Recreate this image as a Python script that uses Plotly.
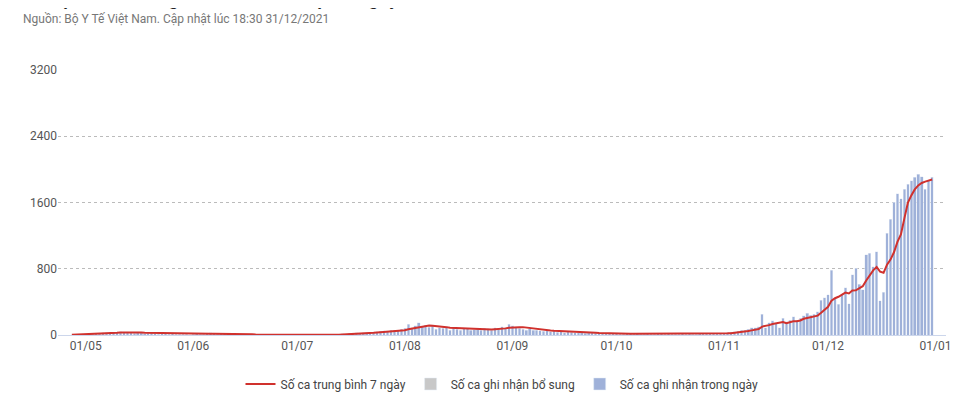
import pandas as pd
import plotly.graph_objects as go

apr = [3,6,4,5]
may = [8,10,12,15,20,25,30,35,28,30,40,25,35,30,20,25,30,15,20,25,18,10,15,20,12,15,10,8,12,10,6]
jun = [10,15,8,12,20,25,15,10,20,15,10,12,8,10,6,8,5,6,4,5,3,5,4,3,2,3,2,4,3,2]
jul = [2,1,2,3,2,1,2,3,4,2,3,5,10,15,12,20,15,25,20,30,25,35,30,40,45,50,40,55,60,50,70]
aug = [80,130,90,110,150,100,120,95,110,70,90,80,100,60,85,70,55,80,75,60,65,70,55,80,75,60,90,70,100,85,130]
sep = [110,90,80,70,60,75,55,60,50,45,55,40,50,35,40,30,45,35,30,25,30,20,25,30,20,15,25,20,15,20]
octo = [15,10,12,18,15,10,20,12,8,15,10,12,15,20,10,15,12,8,10,15,12,18,10,12,15,20,18,15,20,22,20]
nov = [20,25,35,40,45,55,60,70,85,90,100,250,90,150,170,140,90,200,160,180,220,180,200,230,260,240,250,280,420,450]
dec = [484,782,443,371,484,572,379,725,806,612,544,967,987,826,1008,411,516,
       1229,1398,1604,1705,1644,1761,1822,1862,1906,1942,1914,1761,1862,1902]

daily = apr + may + jun + jul + aug + sep + octo + nov + dec
dates = pd.date_range("2021-04-27", periods=len(daily), freq="D")
extra = [0] * len(daily)
avg7 = pd.Series(daily).add(pd.Series(extra)).rolling(7, min_periods=1).mean().round(1).tolist()

fig = go.Figure()
fig.add_trace(go.Bar(x=dates, y=extra, name="Số ca ghi nhận bổ sung", marker_color="#c8c8c8", legendrank=2))
fig.add_trace(go.Bar(x=dates, y=daily, name="Số ca ghi nhận trong ngày", marker_color="#9fb1d9", legendrank=3))
fig.add_trace(go.Scatter(x=dates, y=avg7, mode="lines", name="Số ca trung bình 7 ngày",
                         line=dict(color="#d0312d", width=2), legendrank=1))

fig.update_layout(
    width=960, height=400, barmode="stack", bargap=0.25,
    plot_bgcolor="white", paper_bgcolor="white",
    font=dict(family="Roboto, Arial, sans-serif", color="#333"),
    margin=dict(l=50, r=22, t=62, b=73, autoexpand=False),
    legend=dict(orientation="h", x=0.5, xanchor="center", y=-0.13, yanchor="top",
                traceorder="normal", font=dict(size=12, color="#444")),
    showlegend=True,
    annotations=[
        dict(text="<b>Số liệu Covid-19 ghi nhận tại Hà Nội từ ngày 27/4</b>", xref="paper", yref="paper",
             x=-0.042, y=1.22, xanchor="left", yanchor="bottom", showarrow=False,
             font=dict(size=19, color="#222")),
        dict(text="Nguồn: Bộ Y Tế Việt Nam. Cập nhật lúc 18:30 31/12/2021", xref="paper", yref="paper",
             x=-0.042, y=1.16, xanchor="left", yanchor="bottom", showarrow=False,
             font=dict(size=12, color="#777")),
    ],
)
fig.update_xaxes(type="date", range=["2021-04-23", "2022-01-04"], tickformat="%d/%m",
                 dtick="M1", tick0="2021-05-01", showgrid=False, showline=True,
                 linecolor="#ccd6eb", tickfont=dict(size=12, color="#555"))
fig.update_yaxes(range=[0, 3200], dtick=800, showgrid=True, gridcolor="#bbbbbb",
                 griddash="dot", zeroline=False, tickfont=dict(size=12, color="#555"))
fig.write_html("out.html")
